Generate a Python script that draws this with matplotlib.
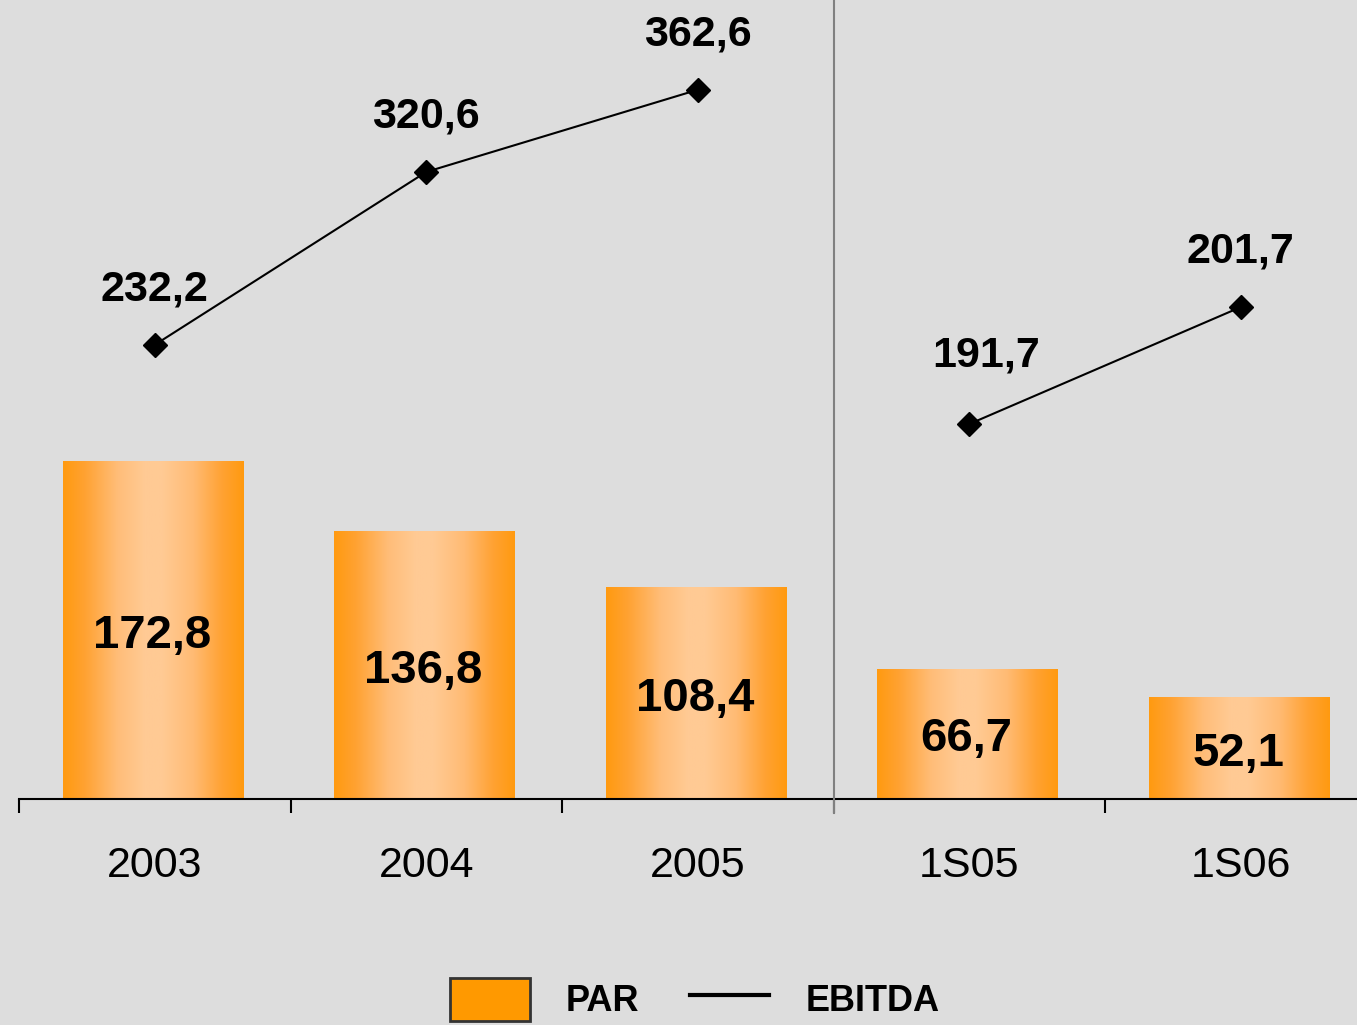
import numpy as np
import matplotlib.pyplot as plt
from matplotlib.patches import Patch
from matplotlib.lines import Line2D
from matplotlib.colors import LinearSegmentedColormap

plt.rcParams['font.family'] = ['Liberation Sans', 'DejaVu Sans']

# data
categories = ["2003", "2004", "2005", "1S05", "1S06"]
par_values = [172.8, 136.8, 108.4, 66.7, 52.1]
par_labels = ["172,8", "136,8", "108,4", "66,7", "52,1"]
ebitda_values = [232.2, 320.6, 362.6, 191.7, 251.5]   # marker heights as drawn
ebitda_labels = ["232,2", "320,6", "362,6", "191,7", "201,7"]

bg = '#DDDDDD'
fig = plt.figure(figsize=(13.57, 10.25), dpi=100, facecolor=bg)
ax = fig.add_axes([19 / 1357, 226 / 1025, 1357.5 / 1357, 799 / 1025])
ax.set_facecolor(bg)

x = np.arange(len(categories))

# bars with horizontal gradient
bars = ax.bar(x - 0.008, par_values, width=0.663, color='none', edgecolor='none', zorder=2)
grad_cmap = LinearSegmentedColormap.from_list(
    'bar', [(0.0, '#FF9A10'), (0.12, '#FFA232'), (0.3, '#FFBD78'), (0.45, '#FFCA94'),
            (0.55, '#FFCA94'), (0.72, '#FFBB74'), (0.88, '#FFA233'), (1.0, '#FF9A10')])
grad = np.linspace(0, 1, 256).reshape(1, -1)
for b in bars:
    x0, y0 = b.get_x(), b.get_y()
    im = ax.imshow(grad, cmap=grad_cmap, aspect='auto', zorder=2,
                   extent=[x0, x0 + b.get_width(), y0, y0 + b.get_height()])
    im.set_clip_path(b)
ax.set_xlim(-0.5, len(categories) - 0.5)
ax.set_ylim(0, 408.5)

for xi, v, lab in zip(x, par_values, par_labels):
    ax.annotate(lab, (xi - 0.01, v / 2), xytext=(0, -4), textcoords='offset points',
                ha='center', va='center', fontsize=34, fontweight='bold',
                color='black', zorder=4)

# EBITDA line: two separate segments (annual / semester)
ax.plot(x[:3], ebitda_values[:3], color='black', lw=1.5, marker='D',
        markersize=12, zorder=5, clip_on=False)
ax.plot(x[3:], ebitda_values[3:], color='black', lw=1.5, marker='D',
        markersize=12, zorder=5, clip_on=False)

offsets = [(0, 40), (0, 40), (0, 40), (12, 49), (0, 40)]
for xi, v, lab, off in zip(x, ebitda_values, ebitda_labels, offsets):
    ax.annotate(lab, (xi, v), xytext=off, textcoords='offset points',
                ha='center', va='center', fontsize=31, fontweight='bold')

# divider between annual and semester data
ax.axvline(2.5, ymin=-14 / 799, ymax=1, color='#808080', lw=1.5,
           clip_on=False, zorder=6)

# axes styling
for s in ['left', 'right', 'top']:
    ax.spines[s].set_visible(False)
ax.spines['bottom'].set_linewidth(1.5)
ax.set_yticks([])
ax.set_xticks(np.arange(-0.5, len(categories), 1.0))
ax.set_xticklabels([])
ax.set_xticks(x, minor=True)
ax.set_xticklabels(categories, minor=True, fontsize=31)
ax.tick_params(axis='x', which='major', direction='out', length=10, width=1.5)
ax.tick_params(axis='x', which='minor', length=0, pad=34)

handles = [Patch(facecolor='#FF9900', edgecolor='#333333', linewidth=2),
           Line2D([0], [0], color='black', lw=3)]
fig.legend(handles, ['PAR', 'EBITDA'], loc='center', bbox_to_anchor=(0.512, 0.025),
           ncol=2, frameon=False, prop={'size': 26, 'weight': 'bold'},
           handlelength=2.2, handleheight=1.45, handletextpad=1.0, columnspacing=1.4)

fig.savefig('out.png', dpi=100, facecolor=bg)
